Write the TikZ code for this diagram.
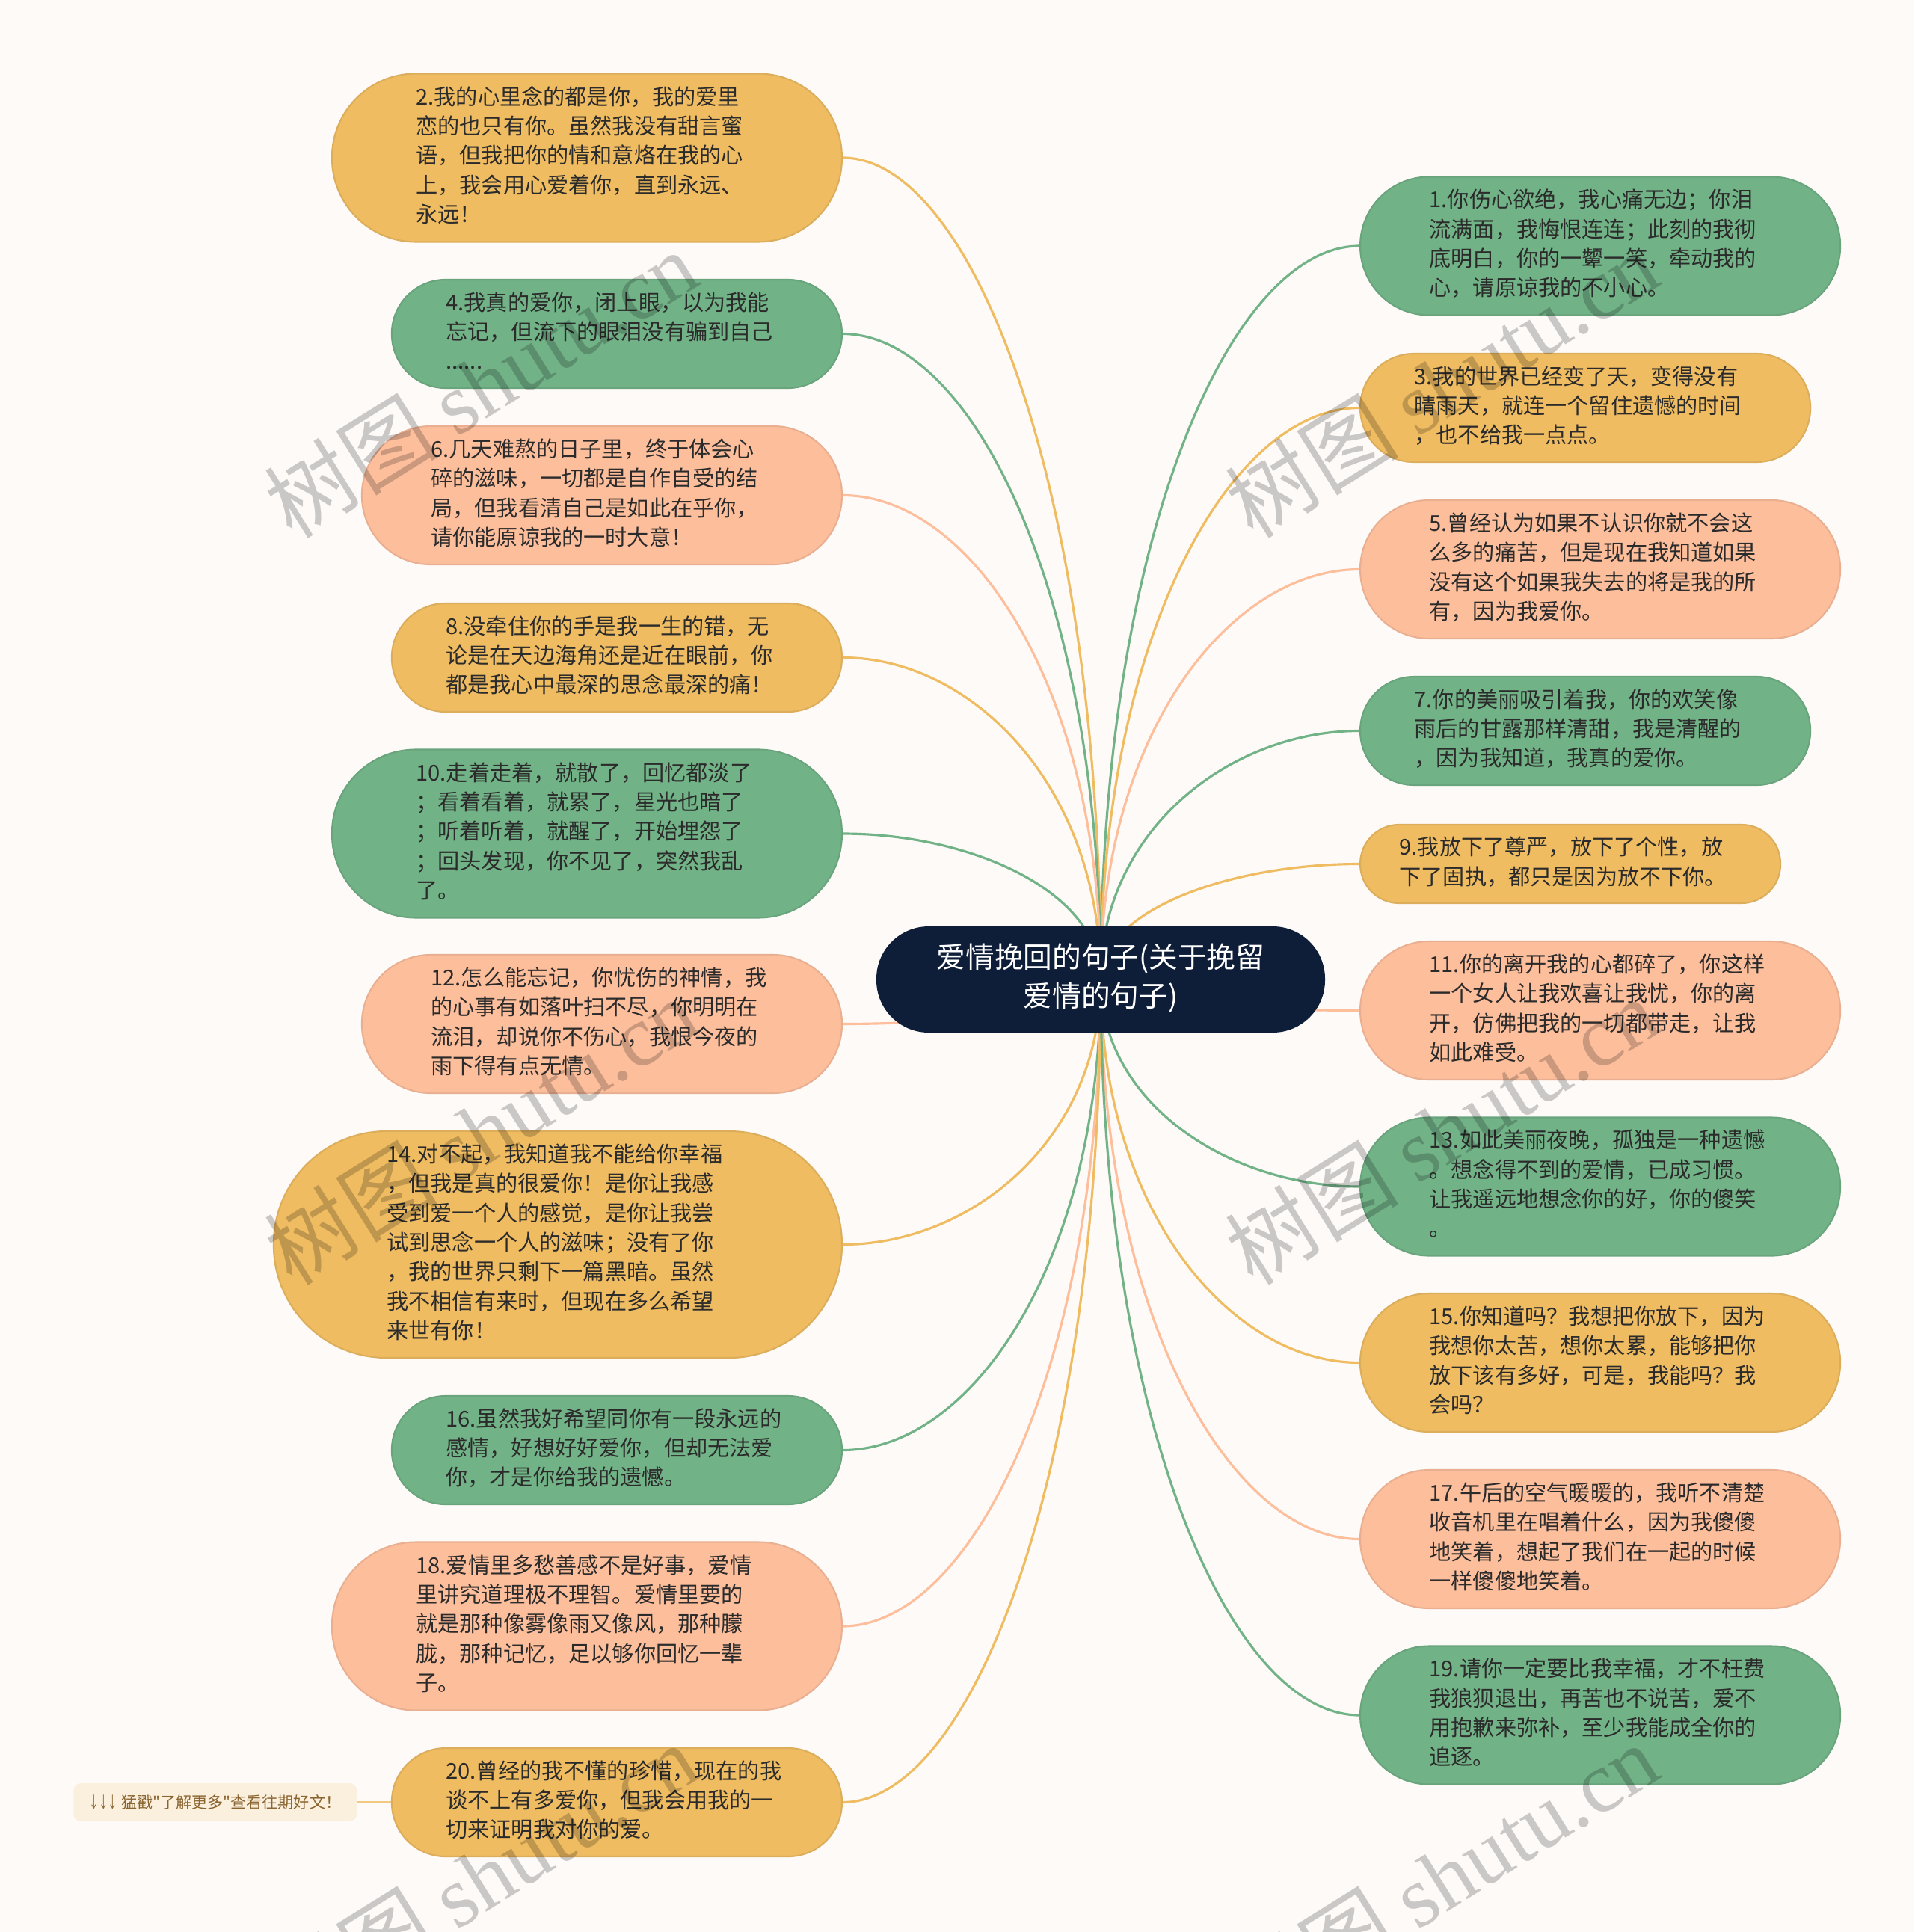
\documentclass[tikz,border=0pt]{standalone}
\usepackage{fontspec}
\usepackage{graphicx}
\setmainfont{Noto Sans CJK SC}
\newfontfamily\wmfont{Liberation Serif}
\newfontfamily\notefont[Ligatures=TeXOff]{Noto Sans CJK SC}
\usetikzlibrary{calc,backgrounds}

\definecolor{bgcol}{HTML}{FDFAF8}
\definecolor{yel}{HTML}{EFBC62}
\definecolor{grn}{HTML}{72B287}
\definecolor{pch}{HTML}{FDBE9C}
\definecolor{navy}{HTML}{0E1E38}
\definecolor{ink}{HTML}{2B2B2B}
\definecolor{notefill}{HTML}{FBF0DE}
\definecolor{noteink}{HTML}{8A6530}

\tikzset{
  leaf/.style={rectangle, inner sep=0pt, text width=4.57cm,
    align=left, text=ink, font=\fontsize{8.3}{11.2}\selectfont,
    execute at begin node=\strut, execute at end node=\strut,
    fill=#1, draw=#1!92!black, line width=0.6pt},
  rows2/.style={minimum height=1.05cm, minimum width=5.62cm, rounded corners=0.52cm},
  rows3/.style={minimum height=1.45cm, minimum width=6.02cm, rounded corners=0.72cm},
  rows4/.style={minimum height=1.85cm, minimum width=6.42cm, rounded corners=0.92cm},
  rows5/.style={minimum height=2.25cm, minimum width=6.82cm, rounded corners=1.12cm},
  rows7/.style={minimum height=3.03cm, minimum width=7.60cm, rounded corners=1.51cm},
  root/.style={rectangle, inner sep=0pt, text width=4.58cm, minimum width=6.0cm,
    minimum height=1.42cm, rounded corners=0.70cm,
    align=center, fill=navy, text=white, font=\fontsize{11}{15}\selectfont,
    execute at begin node=\strut, execute at end node=\strut},
  branch/.style={draw=#1, line width=0.9pt,
    to path={.. controls ($(\tikztostart)!0.6!(\tikztostart |- \tikztotarget)$)
      and ($(\tikztotarget)!0.5!(\tikztostart |- \tikztotarget)$) .. (\tikztotarget)}},
  watermark/.style={rotate=32, text=black, opacity=0.2, font=\fontsize{33}{33}\selectfont}
}

\begin{document}
\begin{tikzpicture}
  \useasboundingbox (0,0) rectangle (25.6,-25.84);

  % centre
  \node[root] (root) at (14.72,-13.10) {爱情挽回的句子(关于挽留\\爱情的句子)};

  % left side
  \node[leaf=yel, rows5, anchor=east] (n2) at (11.27,-2.11) {2.我的心里念的都是你，我的爱里\\恋的也只有你。虽然我没有甜言蜜\\语，但我把你的情和意烙在我的心\\上，我会用心爱着你，直到永远、\\永远！};
  \node[leaf=grn, rows3, anchor=east] (n4) at (11.27,-4.465) {4.我真的爱你，闭上眼，以为我能\\忘记，但流下的眼泪没有骗到自己\\......};
  \node[leaf=pch, rows4, anchor=east] (n6) at (11.27,-6.625) {6.几天难熬的日子里，终于体会心\\碎的滋味，一切都是自作自受的结\\局，但我看清自己是如此在乎你，\\请你能原谅我的一时大意！};
  \node[leaf=yel, rows3, anchor=east] (n8) at (11.27,-8.795) {8.没牵住你的手是我一生的错，无\\论是在天边海角还是近在眼前，你\\都是我心中最深的思念最深的痛！};
  \node[leaf=grn, rows5, anchor=east] (n10) at (11.27,-11.15) {10.走着走着，就散了，回忆都淡了\\；看着看着，就累了，星光也暗了\\；听着听着，就醒了，开始埋怨了\\；回头发现，你不见了，突然我乱\\了。};
  \node[leaf=pch, rows4, anchor=east] (n12) at (11.27,-13.695) {12.怎么能忘记，你忧伤的神情，我\\的心事有如落叶扫不尽，你明明在\\流泪，却说你不伤心，我恨今夜的\\雨下得有点无情。};
  \node[leaf=yel, rows7, anchor=east] (n14) at (11.27,-16.645) {14.对不起，我知道我不能给你幸福\\，但我是真的很爱你！是你让我感\\受到爱一个人的感觉，是你让我尝\\试到思念一个人的滋味；没有了你\\，我的世界只剩下一篇黑暗。虽然\\我不相信有来时，但现在多么希望\\来世有你！};
  \node[leaf=grn, rows3, anchor=east] (n16) at (11.27,-19.395) {16.虽然我好希望同你有一段永远的\\感情，好想好好爱你，但却无法爱\\你，才是你给我的遗憾。};
  \node[leaf=pch, rows5, anchor=east] (n18) at (11.27,-21.75) {18.爱情里多愁善感不是好事，爱情\\里讲究道理极不理智。爱情里要的\\就是那种像雾像雨又像风，那种朦\\胧，那种记忆，足以够你回忆一辈\\子。};
  \node[leaf=yel, rows3, anchor=east] (n20) at (11.27,-24.105) {20.曾经的我不懂的珍惜，现在的我\\谈不上有多爱你，但我会用我的一\\切来证明我对你的爱。};

  % note
  \node[fill=notefill, rounded corners=0.1cm, anchor=east, minimum width=3.79cm, minimum height=0.51cm,
    text=noteink, font=\notefont\fontsize{6}{7}\selectfont] (note) at (4.78,-24.105)
    {\scalebox{0.6}[1]{↓↓↓} 猛戳"了解更多"查看往期好文！};

  % right side
  \node[leaf=grn, rows4, anchor=west] (n1) at (18.18,-3.29) {1.你伤心欲绝，我心痛无边；你泪\\流满面，我悔恨连连；此刻的我彻\\底明白，你的一颦一笑，牵动我的\\心，请原谅我的不小心。};
  \node[leaf=yel, rows3, anchor=west] (n3) at (18.18,-5.455) {3.我的世界已经变了天，变得没有\\晴雨天，就连一个留住遗憾的时间\\，也不给我一点点。};
  \node[leaf=pch, rows4, anchor=west] (n5) at (18.18,-7.615) {5.曾经认为如果不认识你就不会这\\么多的痛苦，但是现在我知道如果\\没有这个如果我失去的将是我的所\\有，因为我爱你。};
  \node[leaf=grn, rows3, anchor=west] (n7) at (18.18,-9.775) {7.你的美丽吸引着我，你的欢笑像\\雨后的甘露那样清甜，我是清醒的\\，因为我知道，我真的爱你。};
  \node[leaf=yel, rows2, anchor=west] (n9) at (18.18,-11.555) {9.我放下了尊严，放下了个性，放\\下了固执，都只是因为放不下你。};
  \node[leaf=pch, rows4, anchor=west] (n11) at (18.18,-13.515) {11.你的离开我的心都碎了，你这样\\一个女人让我欢喜让我忧，你的离\\开，仿佛把我的一切都带走，让我\\如此难受。};
  \node[leaf=grn, rows4, anchor=west] (n13) at (18.18,-15.87) {13.如此美丽夜晚，孤独是一种遗憾\\。想念得不到的爱情，已成习惯。\\让我遥远地想念你的好，你的傻笑\\。};
  \node[leaf=yel, rows4, anchor=west] (n15) at (18.18,-18.225) {15.你知道吗？我想把你放下，因为\\我想你太苦，想你太累，能够把你\\放下该有多好，可是，我能吗？我\\会吗？};
  \node[leaf=pch, rows4, anchor=west] (n17) at (18.18,-20.585) {17.午后的空气暖暖的，我听不清楚\\收音机里在唱着什么，因为我傻傻\\地笑着，想起了我们在一起的时候\\一样傻傻地笑着。};
  \node[leaf=grn, rows4, anchor=west] (n19) at (18.18,-22.94) {19.请你一定要比我幸福，才不枉费\\我狼狈退出，再苦也不说苦，爱不\\用抱歉来弥补，至少我能成全你的\\追逐。};

  % links
  \begin{scope}[on background layer]
    \fill[bgcol] (0,0) rectangle (25.6,-25.84);
    \draw[branch=yel] (root.center) to (n2.east);
    \draw[branch=grn] (root.center) to (n4.east);
    \draw[branch=pch] (root.center) to (n6.east);
    \draw[branch=yel] (root.center) to (n8.east);
    \draw[branch=grn] (root.center) to (n10.east);
    \draw[branch=pch] (root.center) to (n12.east);
    \draw[branch=yel] (root.center) to (n14.east);
    \draw[branch=grn] (root.center) to (n16.east);
    \draw[branch=pch] (root.center) to (n18.east);
    \draw[branch=yel] (root.center) to (n20.east);
    \draw[branch=grn] (root.center) to (n1.west);
    \draw[branch=yel] (root.center) to (n3.west);
    \draw[branch=pch] (root.center) to (n5.west);
    \draw[branch=grn] (root.center) to (n7.west);
    \draw[branch=yel] (root.center) to (n9.west);
    \draw[branch=pch] (root.center) to (n11.west);
    \draw[branch=grn] (root.center) to (n13.west);
    \draw[branch=yel] (root.center) to (n15.west);
    \draw[branch=pch] (root.center) to (n17.west);
    \draw[branch=grn] (root.center) to (n19.west);
    \draw[yel!80!white, line width=0.9pt] (note.east) -- (n20.west);
  \end{scope}

  % watermarks
  \node[watermark] (wm1) at (6.43,-5.13) {树图 {\wmfont shutu.cn}};
  \node[watermark] (wm2) at (19.28,-5.13) {树图 {\wmfont shutu.cn}};
  \node[watermark] (wm3) at (6.43,-15.12) {树图 {\wmfont shutu.cn}};
  \node[watermark] (wm4) at (19.28,-15.12) {树图 {\wmfont shutu.cn}};
  \node[watermark] (wm5) at (6.43,-25.1) {树图 {\wmfont shutu.cn}};
  \node[watermark] (wm6) at (19.28,-25.1) {树图 {\wmfont shutu.cn}};
\end{tikzpicture}
\end{document}
